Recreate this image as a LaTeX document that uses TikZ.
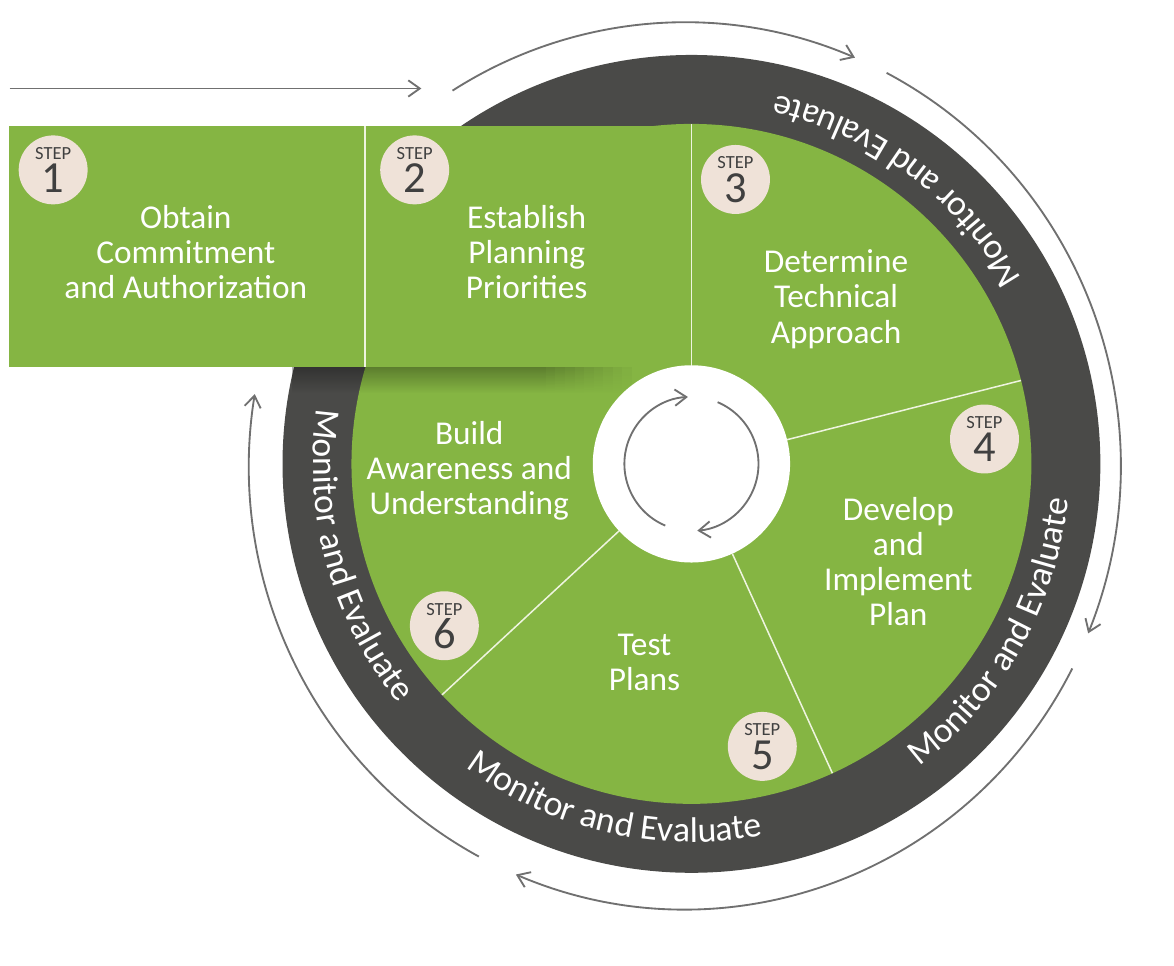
\documentclass[tikz,border=0pt]{standalone}
\usepackage{fontspec}
\setmainfont{Carlito}
\usetikzlibrary{arrows.meta, calc, decorations.text, fadings}
\definecolor{cgreen}{HTML}{85B543}
\definecolor{cdark}{HTML}{4A4A48}
\definecolor{cbadge}{HTML}{EFE2D8}
\definecolor{cgrey}{HTML}{707070}
\definecolor{cline}{HTML}{EEF4DF}
\definecolor{cnum}{HTML}{404040}
\tikzset{
  badge/.style={circle, fill=cbadge, minimum size=7.2mm, inner sep=0pt},
  steptag/.style={anchor=base, inner sep=0pt, text=cnum, font=\fontsize{5.5}{6}\selectfont},
  stepnum/.style={anchor=base, inner sep=0pt, text=cnum, font=\fontsize{13.2}{14}\selectfont},
  stage/.style={text=white, align=center, font=\fontsize{9.9}{10.45}\selectfont},
  divider/.style={draw=cline, line width=0.45pt},
  flow/.style={draw=cgrey, line width=0.55pt, -{Straight Barb[length=1.2mm, width=1.7mm]}},
  ringtext/.style={decorate, decoration={text along path, text align=center,
    text={|\fontsize{10.6}{12}\selectfont\color{white}|Monitor and Evaluate}}},
}

\begin{document}
\begin{tikzpicture}
  \fill[white] (0,0) rectangle (11.74,9.40);
  \coordinate (c) at (7.22,4.66);
  \coordinate (o) at (7.15,4.64); % centre of the outer arrows
  % ring and wheel
  \fill[cdark] (c) circle (4.27);
  \fill[cgreen] (c) circle (3.55);
  % shadow under steps 1 and 2, fading out to the right
  \fill[black, opacity=0.3, path fading=south] (3.05,5.40) rectangle (5.70,5.67);
  \foreach \i [evaluate=\i as \op using 0.3-0.03*\i] in {1,...,9}
    \fill[black, opacity=\op, path fading=south] (5.60+0.1*\i,5.40) rectangle ++(0.1,0.27);
  % steps 1 and 2
  \fill[cgreen] (0.09,5.67) rectangle (7.22,8.19);
  \draw[divider] (3.81,5.67) -- (3.81,8.19);
  \fill[white] (c) circle (1.03);
  \foreach \a in {90,14.2,-65.5,222.8}
    \draw[divider] ($(c)+(\a:1.03)$) -- ($(c)+(\a:3.55)$);
  % text round the ring
  \foreach \a in {53.2,-29.2,-102.9,195.4}
    \path[ringtext] ($(c)+(\a-40:3.95)$) arc[start angle=\a-40, end angle=\a+40, radius=3.95];
  % step badges
  \foreach \n/\x/\y in {1/0.555/7.73, 2/4.33/7.73, 3/7.68/7.63, 4/10.28/4.92, 5/7.96/1.71, 6/4.64/2.97} {
    \node[badge] (b\n) at (\x,\y) {};
    \node[steptag] (t\n) at ([yshift=1.1mm]b\n.center) {STEP};
    \node[stepnum] (n\n) at ([yshift=-2.4mm]b\n.center) {\n};
  }
  \node[stage] (s1) at (1.94,6.87) {Obtain\\Commitment\\and Authorization};
  \node[stage] (s2) at (5.50,6.87) {Establish\\Planning\\Priorities};
  \node[stage] (s3) at (8.73,6.38) {Determine\\Technical\\Approach};
  \node[stage] (s4) at (9.38,3.64) {Develop\\and\\Implement\\Plan};
  \node[stage] (s5) at (6.73,2.59) {Test\\Plans};
  \node[stage] (s6) at (4.90,4.59) {Build\\Awareness and\\Understanding};
  % arrows
  \coordinate (start) at (0.10,8.58);
  \coordinate (entry) at (4.40,8.58);
  \draw[flow] (start) -- (entry);
  \foreach \s/\e in {122.2/67, 62.4/-22.2, -27.2/-112.8, 241.8/170.7}
    \draw[flow] ($(o)+(\s:4.55 and 4.63)$) arc[start angle=\s, end angle=\e, x radius=4.55, y radius=4.63];
  \foreach \s/\e in {247/93, 67/-85}
    \draw[flow] ($(c)+(\s:0.70)$) arc[start angle=\s, end angle=\e, radius=0.70];
\end{tikzpicture}
\end{document}
